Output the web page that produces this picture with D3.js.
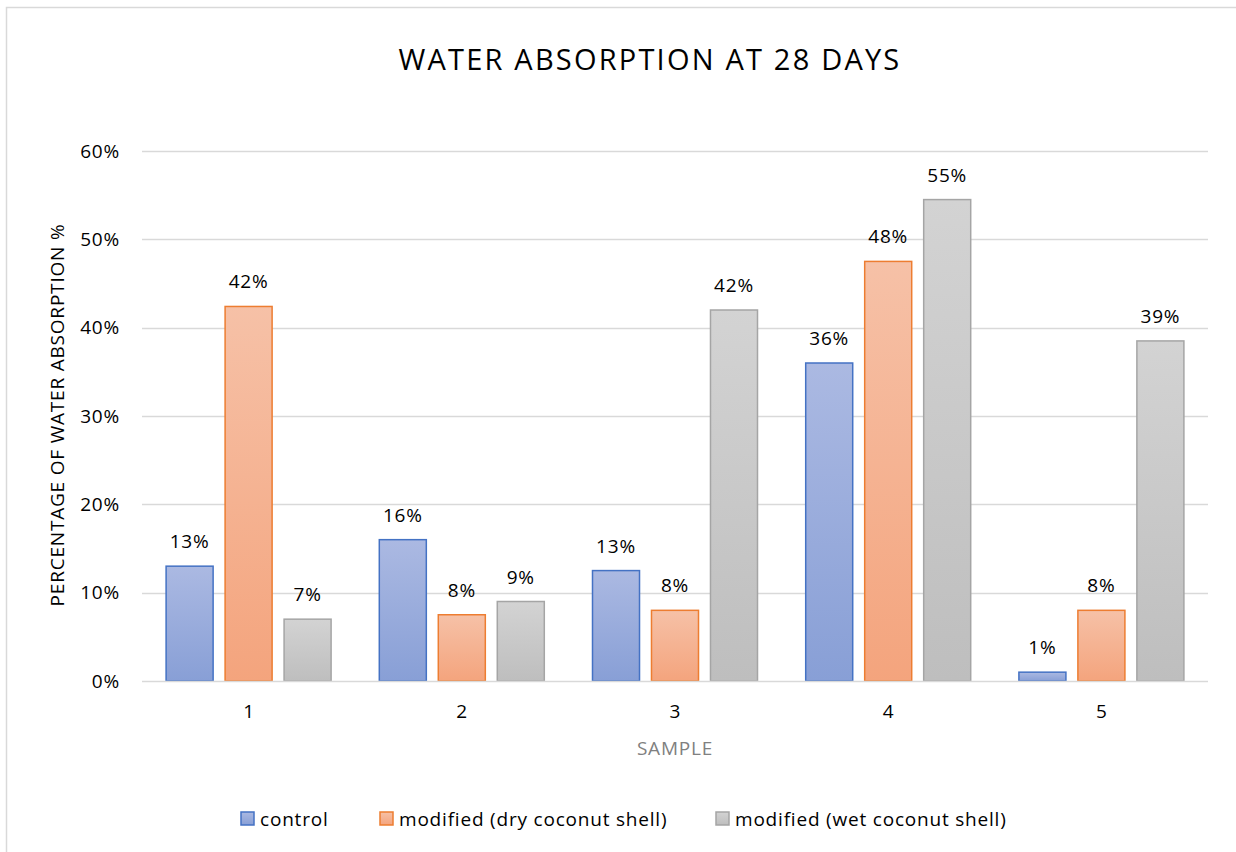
<!DOCTYPE html>
<html>
<head>
<meta charset="utf-8">
<script src="https://cdn.jsdelivr.net/npm/d3@7"></script>
<style>
  body { margin: 0; background: #fff; }
  text { font-family: "Open Sans", sans-serif; }
</style>
</head>
<body>
<div id="chart"></div>
<script>
// chart data
var samples = ['1', '2', '3', '4', '5'];
var seriesNames = ['control', 'modified (dry coconut shell)', 'modified (wet coconut shell)'];
var control = [0.13, 0.16, 0.125, 0.36, 0.01];
var dryShell = [0.424, 0.075, 0.08, 0.475, 0.08];
var wetShell = [0.07, 0.09, 0.42, 0.545, 0.385];
var yTicks = [0, 0.1, 0.2, 0.3, 0.4, 0.5, 0.6];

var W = 1236, H = 852;
var margin = {top: 151, right: 28, bottom: 171, left: 142};
var width = W - margin.left - margin.right,
    height = H - margin.top - margin.bottom;

var fills = [['#abb9e2', '#889fd6'], ['#f6c1a7', '#f4a47d'], ['#d3d3d3', '#bebebe']];
var strokes = ['#4472c4', '#ed7d31', '#a5a5a5'];
var labelSize = '19px', labelSpacing = '0.8px';

var svg = d3.select('#chart').append('svg')
    .attr('width', W)
    .attr('height', H);

// gradients for the bars
var defs = svg.append('defs');
fills.forEach(function (f, i) {
    var g = defs.append('linearGradient')
        .attr('id', 'grad' + i)
        .attr('x1', 0).attr('y1', 0).attr('x2', 0).attr('y2', 1);
    g.append('stop').attr('offset', '0%').attr('stop-color', f[0]);
    g.append('stop').attr('offset', '100%').attr('stop-color', f[1]);
});

// outer border
svg.append('rect')
    .attr('x', 6.5).attr('y', 7.5)
    .attr('width', W).attr('height', H)
    .attr('fill', 'none')
    .attr('stroke', '#d9d9d9')
    .attr('stroke-width', 1.5);

svg.append('text')
    .attr('x', 650).attr('y', 70)
    .attr('text-anchor', 'middle')
    .style('font-size', '29px')
    .style('letter-spacing', '2.2px')
    .style('fill', '#000')
    .text('WATER ABSORPTION AT 28 DAYS');

var g = svg.append('g')
    .attr('transform', 'translate(' + margin.left + ',' + margin.top + ')');

var x0 = d3.scaleBand().domain(samples).range([0, width]);
var x1 = d3.scaleBand().domain(d3.range(3)).range([-83, 83]).paddingInner(0.186);
var y = d3.scaleLinear().domain([0, 0.6]).range([height, 0]);

// gridlines
g.append('g')
    .selectAll('line')
    .data(yTicks.slice(1))
    .enter().append('line')
    .attr('x1', 0).attr('x2', width)
    .attr('y1', function (d) { return Math.round(y(d)) + 0.5; })
    .attr('y2', function (d) { return Math.round(y(d)) + 0.5; })
    .attr('stroke', '#d9d9d9')
    .attr('stroke-width', 1.5);

// y axis
var yAxis = d3.axisLeft(y)
    .tickValues(yTicks)
    .tickFormat(d3.format('.0%'))
    .tickSize(0)
    .tickPadding(22);
var ya = g.append('g').call(yAxis);
ya.select('.domain').remove();
ya.selectAll('text')
    .style('font-size', labelSize)
    .style('letter-spacing', labelSpacing)
    .style('fill', '#000')
    .style('font-family', '"Open Sans", sans-serif');

// bars
var rows = samples.map(function (s, i) {
    return {sample: s, values: [control[i], dryShell[i], wetShell[i]]};
});

var groups = g.selectAll('.group')
    .data(rows)
    .enter().append('g')
    .attr('class', 'group')
    .attr('transform', function (d) {
        return 'translate(' + (x0(d.sample) + x0.bandwidth() / 2) + ',0)';
    });

groups.selectAll('rect')
    .data(function (d) { return d.values; })
    .enter().append('rect')
    .attr('x', function (d, i) { return x1(i) + 0.5; })
    .attr('y', function (d) { return y(d); })
    .attr('width', x1.bandwidth() - 1)
    .attr('height', function (d) { return height - y(d); })
    .attr('fill', function (d, i) { return 'url(#grad' + i + ')'; })
    .attr('stroke', function (d, i) { return strokes[i]; })
    .attr('stroke-width', 1.5);

groups.selectAll('.bar-label')
    .data(function (d) { return d.values; })
    .enter().append('text')
    .attr('class', 'bar-label')
    .attr('x', function (d, i) { return x1(i) + x1.bandwidth() / 2; })
    .attr('y', function (d) { return y(d) - 18; })
    .attr('text-anchor', 'middle')
    .style('font-size', labelSize)
    .style('letter-spacing', labelSpacing)
    .style('fill', '#000')
    .text(function (d) { return d3.format('.0%')(d); });

// x axis baseline
g.append('line')
    .attr('x1', 0).attr('x2', width)
    .attr('y1', height + 0.5).attr('y2', height + 0.5)
    .attr('stroke', '#d9d9d9')
    .attr('stroke-width', 1.5);

var xAxis = d3.axisBottom(x0).tickSize(0).tickPadding(24);
var xa = g.append('g').attr('transform', 'translate(0,' + height + ')').call(xAxis);
xa.select('.domain').remove();
xa.selectAll('text')
    .style('font-size', labelSize)
    .style('fill', '#000')
    .style('font-family', '"Open Sans", sans-serif');

// axis titles
svg.append('text')
    .attr('x', margin.left + width / 2).attr('y', 755)
    .attr('text-anchor', 'middle')
    .style('font-size', labelSize)
    .style('letter-spacing', labelSpacing)
    .style('fill', '#808080')
    .text('SAMPLE');

svg.append('text')
    .attr('transform', 'translate(64,415) rotate(-90)')
    .attr('text-anchor', 'middle')
    .style('font-size', labelSize)
    .style('letter-spacing', labelSpacing)
    .style('fill', '#000')
    .text('PERCENTAGE OF WATER ABSORPTION %');

// legend
var legendX = [241, 380, 716];
var legend = svg.selectAll('.legend')
    .data(seriesNames)
    .enter().append('g')
    .attr('class', 'legend')
    .attr('transform', function (d, i) { return 'translate(' + legendX[i] + ',812)'; });

legend.append('rect')
    .attr('width', 13).attr('height', 13)
    .attr('fill', function (d, i) { return 'url(#grad' + i + ')'; })
    .attr('stroke', function (d, i) { return strokes[i]; })
    .attr('stroke-width', 1.5);

legend.append('text')
    .attr('x', 19).attr('y', 14)
    .style('font-size', labelSize)
    .style('letter-spacing', labelSpacing)
    .style('fill', '#000')
    .text(function (d) { return d; });
</script>
</body>
</html>
